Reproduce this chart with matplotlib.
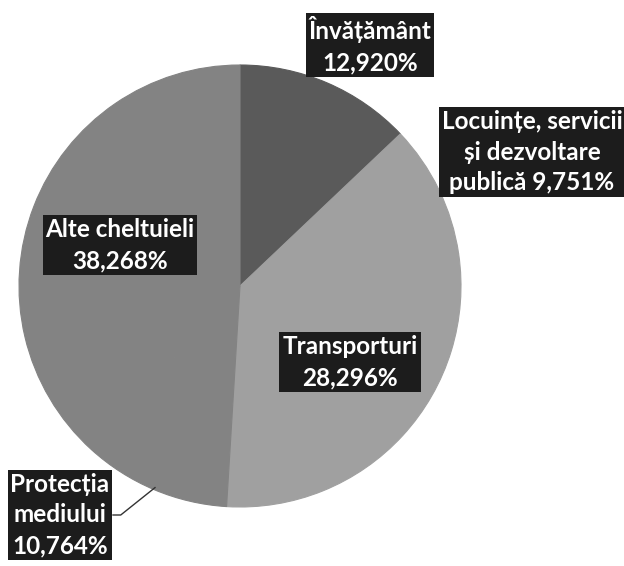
import matplotlib
matplotlib.use("Agg")
import matplotlib.pyplot as plt
import numpy as np

categories = ["Învățământ", "Locuințe, servicii\nși dezvoltare\npublică", "Transporturi",
              "Protecția\nmediului", "Alte cheltuieli"]
values = [12.920, 9.751, 28.296, 10.764, 38.268]
value_labels = ["12,920%", "9,751%", "28,296%", "10,764%", "38,268%"]

colors = ["#5a5a5a", "#a0a0a0", "#a0a0a0", "#838383", "#838383"]

W, H = 624, 566
fig = plt.figure(figsize=(W / 100, H / 100), dpi=100)
cx, cy, r = 240, 286, 221
ax = fig.add_axes([(cx - r) / W, (H - cy - r) / H, 2 * r / W, 2 * r / H])
wedges, _ = ax.pie(values, colors=colors, startangle=90, counterclock=False,
                   radius=1)
for wd, c in zip(wedges, colors):
    wd.set_edgecolor(c)
    wd.set_linewidth(0.8)
ax.set_xlim(-1, 1)
ax.set_ylim(-1, 1)
ax.set_aspect("equal")
ax.set_axis_off()

def px(x, y):
    return (x - cx) / r, (cy - y) / r

label_texts = [
    "Învățământ\n12,920%",
    "Locuințe, servicii\nși dezvoltare\npublică 9,751%",
    "Transporturi\n28,296%",
    "Protecția\nmediului\n10,764%",
    "Alte cheltuieli\n38,268%",
]
label_pos = [px(370, 45), px(532, 152), px(350, 362), px(60, 515), px(120, 245)]

font = dict(family=["Lato", "DejaVu Sans"], fontsize=17.5, fontweight="bold", color="white")
for txt, (lx, ly) in zip(label_texts, label_pos):
    ax.text(lx, ly, txt, ha="center", va="center", linespacing=1.42, clip_on=False,
            bbox=dict(boxstyle="square,pad=0.12", fc="#1c1c1c", ec="none"), **font)

# leader line for Protecția mediului
w = wedges[3]
mid = np.deg2rad((w.theta1 + w.theta2) / 2)
ex, ey = np.cos(mid), np.sin(mid)
bx, by = px(113, 515)
ax.plot([bx, bx + 0.035, ex * 0.99], [by, by, ey * 0.99], color="#333333", lw=1, clip_on=False)

fig.savefig("out.png", dpi=100, facecolor="white")
